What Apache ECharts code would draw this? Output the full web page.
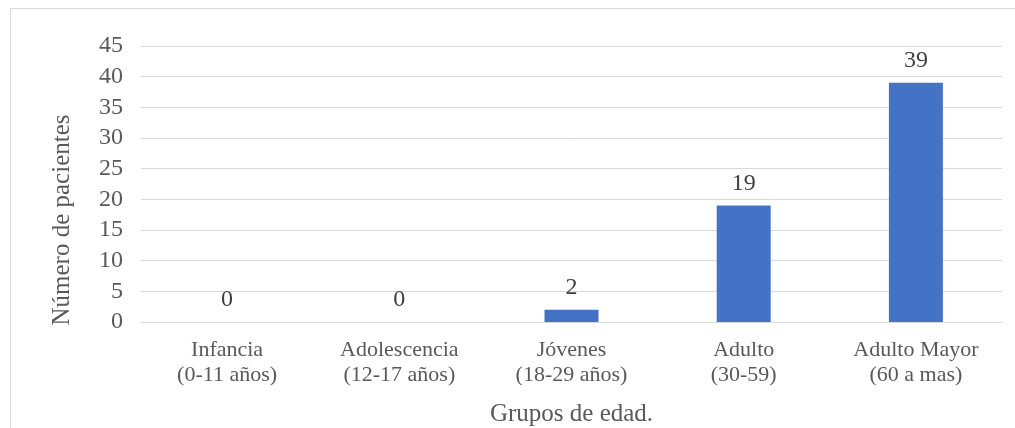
<!DOCTYPE html>
<html>
<head>
<meta charset="utf-8">
<script src="https://cdn.jsdelivr.net/npm/echarts@6/dist/echarts.min.js"></script>
<style>html,body{margin:0;padding:0;background:#fff}#c{width:1015px;height:428px}</style>
</head>
<body>
<div id="c"></div>
<script>
var categories = ['Infancia\n(0-11 años)', 'Adolescencia\n(12-17 años)', 'Jóvenes\n(18-29 años)', 'Adulto\n(30-59)', 'Adulto Mayor\n(60 a mas)'];
var values = [0, 0, 2, 19, 39];
var yTitle = 'Número de pacientes';
var xTitle = 'Grupos de edad.';

var font = '"Liberation Serif", "Times New Roman", serif';
var chart = echarts.init(document.getElementById('c'));
chart.setOption({
  animation: false,
  graphic: [{
    type: 'rect', shape: {x: 10.5, y: 8.5, width: 1020, height: 440},
    style: {fill: 'none', stroke: '#d9d9d9', lineWidth: 1}, silent: true
  }],
  grid: {left: 141, right: 13, top: 46, bottom: 106, containLabel: false, outerBoundsMode: 'none'},
  xAxis: {
    type: 'category', data: categories,
    name: xTitle, nameLocation: 'middle', nameGap: 80,
    nameTextStyle: {fontFamily: font, fontSize: 25, color: '#595959'},
    axisLine: {lineStyle: {color: '#d9d9d9'}},
    axisTick: {show: false},
    axisLabel: {fontFamily: font, fontSize: 22, color: '#595959', lineHeight: 25, margin: 16, interval: 0}
  },
  yAxis: {
    type: 'value', min: 0, max: 45, interval: 5,
    name: yTitle, nameLocation: 'middle', nameGap: 66, nameRotate: 90,
    nameTextStyle: {fontFamily: font, fontSize: 25, color: '#595959', padding: [0, 72, 0, 0]},
    axisLine: {show: false}, axisTick: {show: false},
    axisLabel: {fontFamily: font, fontSize: 24, color: '#595959', margin: 18},
    splitLine: {lineStyle: {color: '#d9d9d9', width: 1}}
  },
  series: [{
    type: 'bar', data: values, barWidth: 54,
    itemStyle: {color: '#4472C4'},
    label: {show: true, position: 'top', distance: 10, fontFamily: font, fontSize: 24, color: '#404040'}
  }]
});
</script>
</body>
</html>
